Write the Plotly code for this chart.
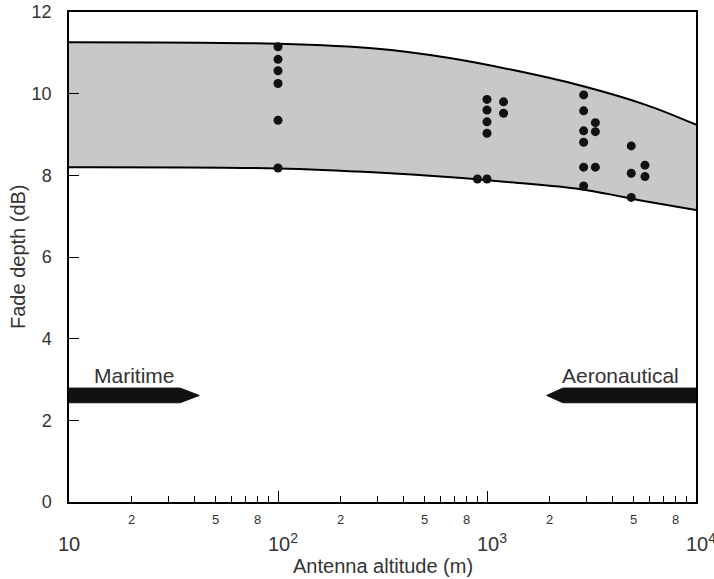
import math
import plotly.graph_objects as go

# Envelope curves (fade depth vs antenna altitude)
curve_alt = [10, 100, 300, 650, 1300, 2800, 5800, 10000]
upper_db = [11.26, 11.22, 11.1, 10.88, 10.59, 10.2, 9.72, 9.24]
lower_db = [8.2, 8.17, 8.07, 7.96, 7.83, 7.66, 7.36, 7.15]

# Measured points
meas_alt = [100, 100, 100, 100, 100, 100,
            1000, 1000, 1000, 1000, 1200, 1200, 900, 1000,
            2900, 2900, 2900, 2900, 2900, 2900, 3300, 3300, 3300,
            4900, 4900, 4900, 5700, 5700]
meas_db = [11.15, 10.84, 10.56, 10.25, 9.35, 8.18,
           9.86, 9.6, 9.31, 9.03, 9.8, 9.52, 7.91, 7.91,
           9.97, 9.58, 9.09, 8.81, 8.2, 7.74, 9.29, 9.07, 8.2,
           8.72, 8.05, 7.46, 8.25, 7.97]

# Service ranges shown as arrows: [tail, head start, tip] in m, band in dB
maritime_x = [10, 34, 42]
aero_x = [10000, 2310, 1930]
arrow_band = [2.43, 2.79]

minor_labels = ['2', '5', '8']
minor_digits = [2, 5, 8]
decades = [10, 100, 1000, 10000]
decade_text = ['10', '10<sup>2</sup>', '10<sup>3</sup>', '10<sup>4</sup>']

FONT = 'Liberation Sans, Arial, sans-serif'
TXT = '#333333'

fig = go.Figure()

fig.add_trace(go.Scatter(x=curve_alt, y=lower_db, mode='lines', line=dict(color='black', width=2, shape='spline'),
                         showlegend=False))
fig.add_trace(go.Scatter(x=curve_alt, y=upper_db, mode='lines', line=dict(color='black', width=2, shape='spline'),
                         fill='tonexty', fillcolor='#c8c8c8', showlegend=False))
fig.add_trace(go.Scatter(x=meas_alt, y=meas_db, mode='markers', marker=dict(color='#111111', size=9),
                         showlegend=False))


def arrow(xs):
    lo, hi = arrow_band
    mid = (lo + hi) / 2
    return [xs[0], xs[1], xs[2], xs[1], xs[0], xs[0]], [lo, lo, mid, hi, hi, lo]


for xs in (maritime_x, aero_x):
    ax, ay = arrow(xs)
    fig.add_trace(go.Scatter(x=ax, y=ay, mode='lines', fill='toself', fillcolor='#111111',
                             line=dict(color='#111111', width=1), showlegend=False))

annotations = [
    dict(x=1.11, y=3.1, xref='x', yref='y', text='Maritime', showarrow=False, xanchor='left',
         yanchor='middle', font=dict(size=21, color=TXT, family=FONT)),
    dict(x=3.64, y=3.1, xref='x', yref='y', text='Aeronautical', showarrow=False, xanchor='center',
         yanchor='middle', font=dict(size=21, color=TXT, family=FONT)),
    dict(x=0.5, y=0, xref='paper', yref='paper', yshift=-64, text='Antenna altitude (m)', showarrow=False,
         xanchor='center', yanchor='middle', font=dict(size=20, color=TXT, family=FONT)),
    dict(x=0, y=0.5, xref='paper', yref='paper', xshift=-51, text='Fade depth (dB)', showarrow=False,
         xanchor='center', yanchor='middle', textangle=-90, font=dict(size=20, color=TXT, family=FONT)),
]
for d, t in zip(decades, decade_text):
    annotations.append(dict(x=math.log10(d), y=0, xref='x', yref='paper', yshift=-55,
                            xshift=0 if d == 10 else 5, text=t, showarrow=False,
                            xanchor='center', yanchor='bottom',
                            font=dict(size=20, color=TXT, family=FONT)))
for d in decades[:-1]:
    for lab, k in zip(minor_labels, minor_digits):
        annotations.append(dict(x=math.log10(k * d), y=0, xref='x', yref='paper', yshift=-17, text=lab,
                                showarrow=False, xanchor='center', yanchor='middle',
                                font=dict(size=13, color=TXT, family=FONT)))

minor_vals = [k * d for d in decades[:-1] for k in range(2, 10)]

fig.update_layout(
    width=714, height=579,
    margin=dict(l=69, r=18, t=12, b=77, autoexpand=False),
    paper_bgcolor='white', plot_bgcolor='white',
    annotations=annotations,
    xaxis=dict(type='log', range=[1, 4], showgrid=False, zeroline=False, showline=True, linecolor='black',
               linewidth=1.5, mirror=True, ticks='inside', ticklen=11, tickwidth=1, tickcolor='black',
               tickvals=decades, showticklabels=False, automargin=False,
               minor=dict(tickvals=minor_vals, ticks='inside', ticklen=6, tickwidth=1, tickcolor='black',
                          showgrid=False)),
    yaxis=dict(range=[0, 12], dtick=2, showgrid=False, zeroline=False, showline=True, linecolor='black',
               linewidth=1.5, mirror=True, ticks='inside', ticklen=10, tickwidth=1, tickcolor='black',
               automargin=False, ticklabelstandoff=12, tickfont=dict(size=18, color=TXT, family=FONT)),
)

fig.write_html("out.html", config={'displayModeBar': False},
               post_script="document.body.style.margin='0';")
